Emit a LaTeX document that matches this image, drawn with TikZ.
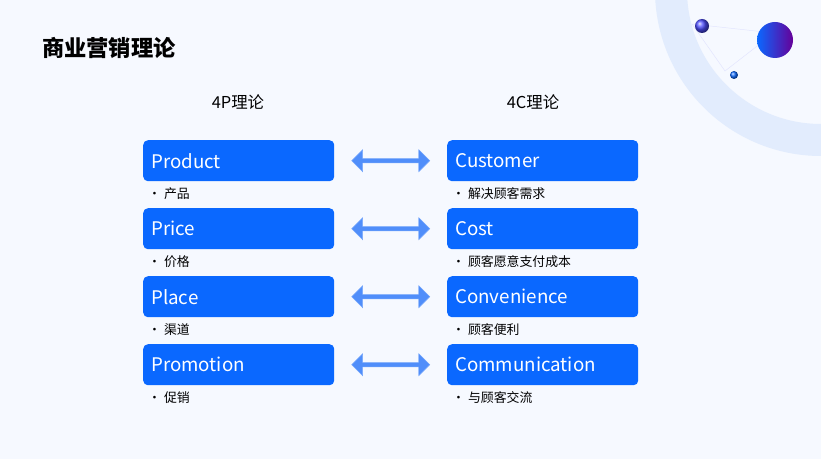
\documentclass[tikz,border=0pt]{standalone}
\usepackage{fontspec}
\setmainfont{Noto Sans CJK SC}
\usetikzlibrary{positioning,shapes.arrows,calc}
\definecolor{bgblue}{RGB}{246,249,255}
\definecolor{boxblue}{RGB}{10,104,255}
\definecolor{arrblue}{RGB}{80,142,250}
\definecolor{ringblue}{RGB}{226,236,253}
\tikzset{
  itembox/.style={fill=boxblue, rounded corners=4pt, minimum width=191*0.03cm, minimum height=41*0.03cm,
    text=white, font=\fontsize{16}{18}\selectfont, anchor=north west, text width=175*0.03cm, align=left},
  itemnote/.style={anchor=north west, font=\fontsize{11}{13}\selectfont, inner sep=0pt},
  pair/.style={double arrow, fill=arrblue, draw=arrblue!80, minimum width=22*0.03cm, minimum height=78*0.03cm,
    double arrow head extend=6*0.03cm, inner sep=1pt}
}
\begin{document}
\begin{tikzpicture}[x=0.03cm,y=-0.03cm]
  \fill[bgblue] (0,0) rectangle (821,459);
  \useasboundingbox (0,0) rectangle (821,459);
  % corner decoration
  \begin{scope}
    \clip (0,0) rectangle (821,459);
    \draw[ringblue, line width=32*0.03cm] (821,-10) circle (150*0.03cm);
  \end{scope}
  \draw[ringblue!70!blue!30, line width=0.4pt] (692,24) -- (774,33) -- (725,71) -- cycle;
  \shade[ball color=blue!70!white] (702,26) circle (7*0.03cm);
  \shade[ball color=boxblue] (734,75) circle (4*0.03cm);
  \shade[left color=boxblue, right color=violet!80!blue] (775,40) circle (18*0.03cm);
  \node[anchor=west, font=\fontsize{19}{22}\selectfont\bfseries] (title) at (38,48) {商业营销理论};
  \node[font=\fontsize{14}{16}\selectfont] (head4p) at (238,102) {4P理论};
  \node[font=\fontsize{14}{16}\selectfont] (head4c) at (533,102) {4C理论};
  \foreach \i/\p/\pn/\c/\cn in {0/Product/产品/Customer/解决顾客需求,
      1/Price/价格/Cost/顾客愿意支付成本,
      2/Place/渠道/Convenience/顾客便利,
      3/Promotion/促销/Communication/与顾客交流}{
    \node[itembox] (p\i) at (143,140+68*\i) {\p};
    \node[itembox] (c\i) at (447,140+68*\i) {\c};
    \node[itemnote, below=6*0.03cm of p\i.south west, anchor=north west, xshift=5*0.03cm] (pn\i) {• \pn};
    \node[itemnote, below=6*0.03cm of c\i.south west, anchor=north west, xshift=5*0.03cm] (cn\i) {• \cn};
    \node[pair] (a\i) at ($(p\i.east)!0.5!(c\i.west)$) {};
  }
\end{tikzpicture}
\end{document}
